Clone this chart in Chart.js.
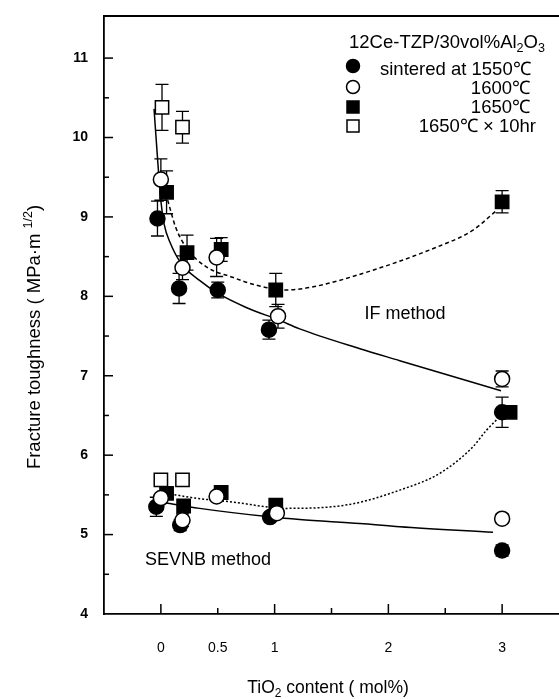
<!DOCTYPE html>
<html><head><meta charset="utf-8">
<script src="https://cdn.jsdelivr.net/npm/chart.js@4.4.1/dist/chart.umd.min.js"></script>
<style>html,body{margin:0;padding:0;background:#fff}#wrap{width:559px;height:699px;position:relative}</style>
</head><body><div id="wrap"><canvas id="c" width="559" height="699"></canvas></div>
<script>
// ---- tick labels ----
const xTickValues = [0, 0.5, 1, 2, 3];
const yTickValues = [4, 5, 6, 7, 8, 9, 10, 11];

// ---- measured points (IF method first, then SEVNB) ----
// sintered at 1550C (filled circle)
const x1550 = [-0.03, 0.16, 0.50, 0.95, 3.00, -0.04, 0.17, 0.96, 3.00];
const y1550 = [8.98, 8.10, 8.08, 7.58, 6.54, 5.35, 5.12, 5.22, 4.80];
const e1550 = [0.22, 0.19, 0.10, 0.12, 0.19, 0.12, 0.07, 0.05, 0.07];
// 1600C (open circle)
const x1600 = [0.00, 0.19, 0.49, 1.03, 3.00, 0.00, 0.19, 0.49, 1.02, 3.00];
const y1600 = [9.47, 8.36, 8.49, 7.75, 6.96, 5.46, 5.18, 5.48, 5.27, 5.20];
const e1600 = [0.26, 0.15, 0.24, 0.15, 0.10, 0.05, 0.08, 0.05, 0.05, 0.06];
// 1650C (filled square)
const x1650 = [0.05, 0.23, 0.53, 1.01, 3.00, 0.05, 0.20, 0.53, 1.01, 3.07];
const y1650 = [9.31, 8.55, 8.59, 8.08, 9.19, 5.52, 5.36, 5.53, 5.37, 6.54];
const e1650 = [0.27, 0.22, 0.15, 0.21, 0.14, 0.05, 0.05, 0.05, 0.04, 0.05];
// 1650C x 10hr (open square)
const x1650h = [0.01, 0.19, 0.00, 0.19];
const y1650h = [10.38, 10.13, 5.69, 5.69];
const e1650h = [0.29, 0.20, 0.06, 0.05];

// ---- fitted curves ----
const ifSolidX = [-0.06, -0.03, 0.00, 0.03, 0.08, 0.18, 0.34, 0.51, 0.75, 1.04, 1.22, 1.75, 2.10, 2.99];
const ifSolidY = [10.36, 9.75, 9.20, 8.90, 8.68, 8.41, 8.20, 8.03, 7.86, 7.70, 7.59, 7.34, 7.19, 6.81];
const ifDashX = [0.06, 0.13, 0.22, 0.40, 0.63, 0.84, 1.10, 1.34, 1.80, 2.39, 2.74, 2.95];
const ifDashY = [9.21, 8.87, 8.62, 8.37, 8.24, 8.14, 8.08, 8.12, 8.30, 8.60, 8.83, 9.08];
const sevDotX = [0.05, 0.30, 0.63, 1.10, 1.66, 2.10, 2.45, 2.74, 2.86, 2.99];
const sevDotY = [5.52, 5.46, 5.41, 5.33, 5.38, 5.56, 5.77, 6.10, 6.31, 6.50];
const sevSolidX = [0.00, 0.34, 0.98, 1.22, 1.75, 2.10, 2.92];
const sevSolidY = [5.41, 5.33, 5.22, 5.19, 5.14, 5.10, 5.03];

const FONT = "'Liberation Sans', Arial, Helvetica, sans-serif";
const pts = (xs, ys) => xs.map((x, i) => ({x: x, y: ys[i]}));

const markerSets = [
  {label: 'sintered at 1550℃', xs: x1550, ys: y1550, es: e1550, style: 'circle', fill: '#000', r: 7.5},
  {label: '1600℃', xs: x1600, ys: y1600, es: e1600, style: 'circle', fill: '#fff', r: 7.5},
  {label: '1650℃', xs: x1650, ys: y1650, es: e1650, style: 'rect', fill: '#000', r: 9.4},
  {label: '1650℃ × 10hr', xs: x1650h, ys: y1650h, es: e1650h, style: 'rect', fill: '#fff', r: 9.4}
];

const datasets = [];
markerSets.forEach((m, i) => {
  datasets.push({
    label: m.label, data: pts(m.xs, m.ys), showLine: false,
    pointStyle: m.style, pointRadius: m.r, pointHoverRadius: m.r,
    pointBackgroundColor: m.fill, pointBorderColor: '#000', pointBorderWidth: 1.5,
    order: 1 + (i === 1 ? -0.5 : 0)
  });
});
const curve = (xs, ys, dash) => ({
  label: 'fit', data: pts(xs, ys), showLine: true, pointRadius: 0, pointHoverRadius: 0,
  borderColor: '#000', borderWidth: 1.5, borderDash: dash, fill: false,
  cubicInterpolationMode: 'monotone', order: 5
});
datasets.push(curve(ifSolidX, ifSolidY, []));
datasets.push(curve(ifDashX, ifDashY, [4, 3]));
datasets.push(curve(sevDotX, sevDotY, [2, 2]));
datasets.push(curve(sevSolidX, sevSolidY, []));

function richText(ctx, segs, x, y, size, align) {
  let total = 0;
  const parts = segs.map(([t, k]) => {
    const s = k ? size * 0.68 : size;
    ctx.font = s + 'px ' + FONT;
    const w = ctx.measureText(t).width;
    total += w;
    return {t, k, s, w};
  });
  let cx = align === 'center' ? x - total / 2 : (align === 'right' ? x - total : x);
  ctx.textAlign = 'left';
  ctx.textBaseline = 'middle';
  parts.forEach(p => {
    ctx.font = p.s + 'px ' + FONT;
    const dy = p.k === 'sub' ? size * 0.3 : (p.k === 'sup' ? -size * 0.35 : 0);
    ctx.fillText(p.t, cx, y + dy);
    cx += p.w;
  });
}

const decor = {
  id: 'decor',
  beforeDatasetsDraw(chart) {
    const ctx = chart.ctx, xs = chart.scales.x, ys = chart.scales.y;
    ctx.save();
    ctx.strokeStyle = '#000';
    ctx.lineWidth = 1.3;
    markerSets.forEach(m => {
      m.xs.forEach((xv, i) => {
        const px = xs.getPixelForValue(xv);
        const top = ys.getPixelForValue(m.ys[i] + m.es[i]);
        const bot = ys.getPixelForValue(m.ys[i] - m.es[i]);
        ctx.beginPath();
        ctx.moveTo(px, top); ctx.lineTo(px, bot);
        ctx.moveTo(px - 6.5, top); ctx.lineTo(px + 6.5, top);
        ctx.moveTo(px - 6.5, bot); ctx.lineTo(px + 6.5, bot);
        ctx.stroke();
      });
    });
    ctx.restore();
  },
  afterDraw(chart) {
    const ctx = chart.ctx, xs = chart.scales.x, ys = chart.scales.y, a = chart.chartArea;
    ctx.save();
    ctx.strokeStyle = '#000';
    ctx.fillStyle = '#000';
    ctx.lineWidth = 1.8;
    ctx.beginPath(); ctx.moveTo(a.left, a.top); ctx.lineTo(a.right, a.top); ctx.stroke();
    ctx.lineWidth = 1.5;
    for (let v = 4.5; v <= 11.01; v += 0.5) {
      const py = ys.getPixelForValue(v);
      const len = Math.abs(v - Math.round(v)) < 1e-6 ? 9 : 5;
      ctx.beginPath(); ctx.moveTo(a.left, py); ctx.lineTo(a.left + len, py); ctx.stroke();
    }
    for (let v = 0; v <= 3.01; v += 0.5) {
      const px = xs.getPixelForValue(v);
      const len = Math.abs(v - Math.round(v)) < 1e-6 ? 10 : 6;
      ctx.beginPath(); ctx.moveTo(px, a.bottom); ctx.lineTo(px, a.bottom - len); ctx.stroke();
    }
    // legend
    ctx.fillStyle = '#000';
    richText(ctx, [['12Ce-TZP/30vol%Al', ''], ['2', 'sub'], ['O', ''], ['3', 'sub']], 349, 43, 18.5, 'left');
    const rowY = [70, 89, 108, 127];
    const mkY = [66, 87, 107, 126];
    markerSets.forEach((m, i) => {
      const mx = 353, my = mkY[i];
      ctx.lineWidth = 1.5;
      ctx.fillStyle = m.fill;
      ctx.beginPath();
      if (m.style === 'circle') ctx.arc(mx, my, 6.5, 0, Math.PI * 2);
      else ctx.rect(mx - 6, my - 6, 12, 12);
      ctx.fill(); ctx.stroke();
      ctx.fillStyle = '#000';
      if (i === 0) richText(ctx, [[m.label, '']], 380, rowY[i], 18.5, 'left');
      else richText(ctx, [[m.label, '']], i === 3 ? 536 : 530, rowY[i], 18.5, 'right');
    });
    // annotations
    richText(ctx, [['IF method', '']], 405, 314, 18, 'center');
    richText(ctx, [['SEVNB method', '']], 208, 560, 18, 'center');
    // axis titles
    richText(ctx, [['TiO', ''], ['2', 'sub'], [' content ( mol%)', '']], 328, 688, 17.5, 'center');
    ctx.save();
    ctx.translate(35, 337);
    ctx.rotate(-Math.PI / 2);
    richText(ctx, [['Fracture toughness ( MPa·m ', ''], ['1/2', 'sup'], [')', '']], 0, 0, 18.5, 'center');
    ctx.restore();
    ctx.restore();
  }
};

new Chart(document.getElementById('c'), {
  type: 'line',
  data: {datasets},
  options: {
    responsive: false, devicePixelRatio: 1, animation: false,
    layout: {autoPadding: false, padding: {top: 16, right: 0, left: 0, bottom: 0}},
    plugins: {legend: {display: false}, tooltip: {enabled: false}, title: {display: false}},
    scales: {
      x: {
        type: 'linear', min: -0.5, max: 3.5,
        afterBuildTicks: s => { s.ticks = xTickValues.map(v => ({value: v})); },
        afterFit: s => { s.height = 85; s.paddingLeft = 0; s.paddingRight = 0; },
        grid: {display: false, drawTicks: false},
        border: {display: true, color: '#000', width: 1.8},
        ticks: {color: '#000', padding: 26, font: {family: FONT, size: 14}, maxRotation: 0, callback: v => String(v)}
      },
      y: {
        type: 'linear', min: 4, max: 11.53,
        afterBuildTicks: s => { s.ticks = yTickValues.map(v => ({value: v})); },
        afterFit: s => { s.width = 104; s.paddingTop = 0; s.paddingBottom = 0; },
        grid: {display: false, drawTicks: false},
        border: {display: true, color: '#000', width: 1.8},
        ticks: {color: '#000', padding: 16, font: {family: FONT, size: 14, weight: 'bold'}, callback: v => String(v)}
      }
    }
  },
  plugins: [decor]
});
</script>
</body></html>
